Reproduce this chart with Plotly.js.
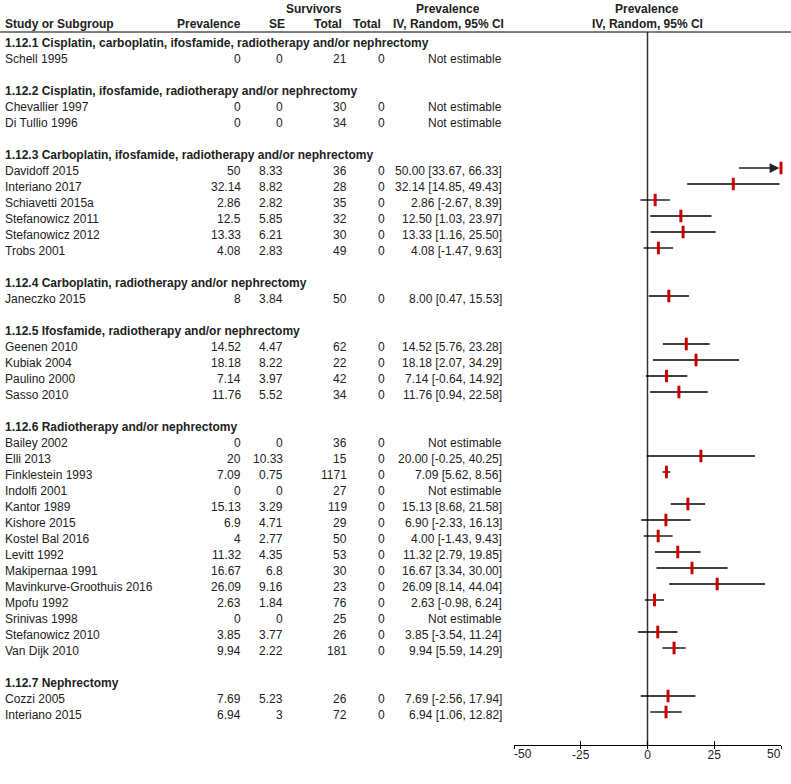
<!DOCTYPE html>
<html>
<head>
<meta charset="utf-8">
<script src="https://cdn.plot.ly/plotly-3.0.1.min.js"></script>
<style>html,body{margin:0;padding:0;background:#fff;}#chart{width:791px;height:784px;}</style>
</head>
<body>
<div id="chart"></div>
<script>
const groupNames = [
  "1.12.1 Cisplatin, carboplatin, ifosfamide, radiotherapy and/or nephrectomy",
  "1.12.2 Cisplatin, ifosfamide, radiotherapy and/or nephrectomy",
  "1.12.3 Carboplatin, ifosfamide, radiotherapy and/or nephrectomy",
  "1.12.4 Carboplatin, radiotherapy and/or nephrectomy",
  "1.12.5 Ifosfamide, radiotherapy and/or nephrectomy",
  "1.12.6 Radiotherapy and/or nephrectomy",
  "1.12.7 Nephrectomy"
];
const studies = [
  "Schell 1995",
  "Chevallier 1997", "Di Tullio 1996",
  "Davidoff 2015", "Interiano 2017", "Schiavetti 2015a", "Stefanowicz 2011", "Stefanowicz 2012", "Trobs 2001",
  "Janeczko 2015",
  "Geenen 2010", "Kubiak 2004", "Paulino 2000", "Sasso 2010",
  "Bailey 2002", "Elli 2013", "Finklestein 1993", "Indolfi 2001", "Kantor 1989", "Kishore 2015", "Kostel Bal 2016",
  "Levitt 1992", "Makipernaa 1991", "Mavinkurve-Groothuis 2016", "Mpofu 1992", "Srinivas 1998", "Stefanowicz 2010", "Van Dijk 2010",
  "Cozzi 2005", "Interiano 2015"
];
const studyGroup = [0, 1, 1, 2, 2, 2, 2, 2, 2, 3, 4, 4, 4, 4, 5, 5, 5, 5, 5, 5, 5, 5, 5, 5, 5, 5, 5, 5, 6, 6];
const prevalence = [0, 0, 0, 50, 32.14, 2.86, 12.5, 13.33, 4.08, 8, 14.52, 18.18, 7.14, 11.76,
  0, 20, 7.09, 0, 15.13, 6.9, 4, 11.32, 16.67, 26.09, 2.63, 0, 3.85, 9.94, 7.69, 6.94];
const se = [0, 0, 0, 8.33, 8.82, 2.82, 5.85, 6.21, 2.83, 3.84, 4.47, 8.22, 3.97, 5.52,
  0, 10.33, 0.75, 0, 3.29, 4.71, 2.77, 4.35, 6.8, 9.16, 1.84, 0, 3.77, 2.22, 5.23, 3];
const survivorsTotal = [21, 30, 34, 36, 28, 35, 32, 30, 49, 50, 62, 22, 42, 34,
  36, 15, 1171, 27, 119, 29, 50, 53, 30, 23, 76, 25, 26, 181, 26, 72];
const totals = [0, 0, 0, 0, 0, 0, 0, 0, 0, 0, 0, 0, 0, 0, 0, 0, 0, 0, 0, 0, 0, 0, 0, 0, 0, 0, 0, 0, 0, 0];
const ciLower = [null, null, null, 33.67, 14.85, -2.67, 1.03, 1.16, -1.47, 0.47, 5.76, 2.07, -0.64, 0.94,
  null, -0.25, 5.62, null, 8.68, -2.33, -1.43, 2.79, 3.34, 8.14, -0.98, null, -3.54, 5.59, -2.56, 1.06];
const ciUpper = [null, null, null, 66.33, 49.43, 8.39, 23.97, 25.50, 9.63, 15.53, 23.28, 34.29, 14.92, 22.58,
  null, 40.25, 8.56, null, 21.58, 16.13, 9.43, 19.85, 30.00, 44.04, 6.24, null, 11.24, 14.29, 17.94, 12.82];
const xTicks = [-50, -25, 0, 25, 50];

const W = 791, H = 784;
const XMIN = -50, XMAX = 50;
const FONT = "Liberation Sans, Arial, sans-serif";
const TXT = "#222222";
const LEFT = 3;

// row layout
const studyRow = [];
const groupRow = [];
let r = 0;
groupNames.forEach((g, gi) => {
  groupRow.push(r); r++;
  studies.forEach((s, i) => { if (studyGroup[i] === gi) { studyRow[i] = r; r++; } });
  r++;
});

const px = v => v / W;
const ann = [];
function addText(text, xpx, y, anchor, bold, yref) {
  ann.push({
    text: bold ? "<b>" + text + "</b>" : text,
    x: px(xpx), xref: "paper",
    y: y, yref: yref || "y", yanchor: "middle",
    xanchor: anchor, showarrow: false,
    yshift: yref === "paper" ? 0 : -3,
    font: { family: FONT, size: 12, color: TXT }
  });
}

// headers
const hy1 = 1 - 9 / H, hy2 = 1 - 24 / H;
addText("Survivors", 344, hy1, "right", true, "paper");
addText("Study or Subgroup", LEFT, hy2, "left", true, "paper");
addText("Prevalence", 243, hy2, "right", true, "paper");
addText("SE", 287, hy2, "right", true, "paper");
addText("Total", 344, hy2, "right", true, "paper");
addText("Total", 383, hy2, "right", true, "paper");
addText("Prevalence", 448, hy1, "center", true, "paper");
addText("IV, Random, 95% CI", 448, hy2, "center", true, "paper");
addText("Prevalence", 647, hy1, "center", true, "paper");
addText("IV, Random, 95% CI", 647, hy2, "center", true, "paper");

groupNames.forEach((g, gi) => addText(g, LEFT, groupRow[gi], "left", true));

studies.forEach((s, i) => {
  const y = studyRow[i];
  addText(s, LEFT, y, "left", false);
  addText(String(prevalence[i]), 243, y, "right", false);
  addText(String(se[i]), 285, y, "right", false);
  addText(String(survivorsTotal[i]), 349, y, "right", false);
  addText(String(totals[i]), 387, y, "right", false);
  const ci = ciLower[i] === null ? "Not estimable"
    : prevalence[i].toFixed(2) + " [" + ciLower[i].toFixed(2) + ", " + ciUpper[i].toFixed(2) + "]";
  addText(ci, 504, y, "right", false);
});

// CI lines
const lx = [], ly = [], mx = [], my = [];
studies.forEach((s, i) => {
  if (ciLower[i] === null) return;
  const y = studyRow[i];
  mx.push(Math.min(Math.max(prevalence[i], XMIN), XMAX)); my.push(y);
  if (ciUpper[i] > XMAX) {
    ann.push({
      x: XMAX - 0.6, y: y, xref: "x", yref: "y",
      ax: Math.max(ciLower[i], XMIN), ay: y, axref: "x", ayref: "y",
      text: "", showarrow: true, arrowhead: 2, arrowsize: 1.5, arrowwidth: 1.3,
      arrowcolor: "#222", standoff: 0, startstandoff: 0
    });
  } else {
    lx.push(Math.max(ciLower[i], XMIN), Math.min(ciUpper[i], XMAX), null);
    ly.push(y, y, null);
  }
});

const yTop = -2.5, yAxis = (745 - 40) / 16;

// end tick labels drawn inside the axis span (like the reference)
const tickFont = { family: FONT, size: 12, color: TXT };
[xTicks[0], xTicks[xTicks.length - 1]].forEach((t, k) => {
  ann.push({
    text: String(t), x: t, xref: "x", y: (H - 754) / H, yref: "paper",
    xanchor: k === 0 ? "left" : "right", yanchor: "middle", showarrow: false,
    xshift: k === 0 ? -2 : 2, font: tickFont
  });
});

const traces = [
  { type: "scatter", mode: "lines", x: lx, y: ly, xaxis: "x", yaxis: "y",
    line: { color: "#000", width: 1.3 }, hoverinfo: "skip", showlegend: false },
  { type: "scatter", mode: "markers", x: mx, y: my, xaxis: "x", yaxis: "y",
    marker: { symbol: "line-ns", size: 9, line: { color: "#cc0000", width: 3 } },
    cliponaxis: false, hoverinfo: "skip", showlegend: false },
  { type: "scatter", mode: "markers", x: [XMIN, XMAX], y: [yAxis, yAxis], xaxis: "x2", yaxis: "y",
    marker: { opacity: 0 }, hoverinfo: "skip", showlegend: false }
];

const dom = [514 / W, 781 / W];
const layout = {
  width: W, height: H, autosize: false,
  margin: { l: 0, r: 0, t: 0, b: 0, pad: 0 },
  paper_bgcolor: "#fff", plot_bgcolor: "rgba(0,0,0,0)",
  showlegend: false,
  xaxis: {
    domain: dom, range: [XMIN, XMAX], anchor: "y",
    tickvals: xTicks,
    ticktext: xTicks.map((t, i) => (i === 0 || i === xTicks.length - 1) ? "" : String(t)),
    ticks: "outside", ticklen: 3, tickwidth: 1, tickcolor: "#000",
    ticklabelstandoff: -4,
    showline: true, linecolor: "#000", linewidth: 1,
    showgrid: false, zeroline: false,
    tickfont: tickFont, fixedrange: true
  },
  xaxis2: {
    domain: dom, range: [XMIN, XMAX], overlaying: "x", anchor: "y",
    tickvals: xTicks, ticks: "inside", ticklen: 4, tickwidth: 1, tickcolor: "#000",
    showticklabels: false, showline: false, showgrid: false, zeroline: false, fixedrange: true
  },
  yaxis: {
    domain: [(H - 745) / H, 1], range: [yAxis, yTop],
    visible: false, showgrid: false, zeroline: false, fixedrange: true
  },
  shapes: [
    { type: "line", xref: "paper", yref: "y", x0: 0, x1: 1, y0: -0.5, y1: -0.5,
      line: { color: "#000", width: 1 } },
    { type: "line", xref: "x", yref: "y", x0: 0, x1: 0, y0: -0.5, y1: yAxis,
      line: { color: "#333", width: 1.5 }, layer: "below" }
  ],
  annotations: ann
};

Plotly.newPlot("chart", traces, layout, { staticPlot: true, displayModeBar: false });
</script>
</body>
</html>
